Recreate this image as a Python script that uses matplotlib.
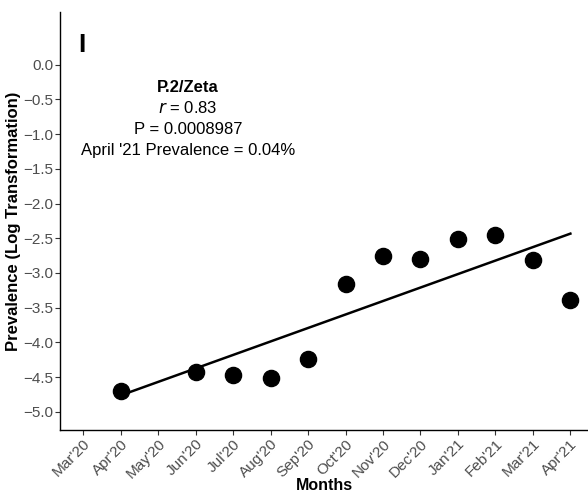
import numpy as np
import matplotlib
matplotlib.use("Agg")
import matplotlib.pyplot as plt

plt.rcParams['font.family'] = ['Liberation Sans', 'DejaVu Sans']

months = ["Mar'20", "Apr'20", "May'20", "Jun'20", "Jul'20", "Aug'20", "Sep'20",
          "Oct'20", "Nov'20", "Dec'20", "Jan'21", "Feb'21", "Mar'21", "Apr'21"]
obs_months = ["Apr'20", "Jun'20", "Jul'20", "Aug'20", "Sep'20", "Oct'20",
              "Nov'20", "Dec'20", "Jan'21", "Feb'21", "Mar'21", "Apr'21"]
prevalence = [-4.70, -4.42, -4.47, -4.51, -4.24, -3.16,
              -2.75, -2.80, -2.51, -2.45, -2.81, -3.39]
yticks = [0.0, -0.5, -1.0, -1.5, -2.0, -2.5, -3.0, -3.5, -4.0, -4.5, -5.0]

x = np.array([months.index(m) for m in obs_months], dtype=float)
y = np.array(prevalence)
slope, intercept = np.polyfit(x, y, 1)
xl = np.array([x.min(), x.max()])

fig = plt.figure(figsize=(5.88, 4.93), dpi=100)
ax = fig.add_axes([0.102, 0.128, 0.898, 0.848])
ax.plot(xl, slope * xl + intercept, color='black', lw=1.8, zorder=2)
ax.scatter(x, y, s=135, color='black', zorder=3, clip_on=False)

ax.set_xlim(-0.62, 13.47)
ax.set_ylim(-5.26, 0.76)
ax.set_xticks(range(len(months)))
ax.set_xticklabels(months, rotation=45, ha='right', rotation_mode='anchor')
ax.set_yticks(yticks)
ax.set_yticklabels([f"{v:.1f}".replace('-', '\u2212') for v in yticks])
for s in ['top', 'right']:
    ax.spines[s].set_visible(False)
for s in ['left', 'bottom']:
    ax.spines[s].set_linewidth(1.0)
ax.tick_params(axis='both', colors='#333333', labelcolor='#4d4d4d',
               labelsize=11, length=3.5, width=0.8, pad=1.5)
ax.set_xlabel('Months', fontsize=11.5, fontweight='bold', labelpad=-2.5)
ax.set_ylabel('Prevalence (Log Transformation)', fontsize=12, fontweight='bold', labelpad=1.5)

ax.text(0.035, 0.95, 'I', transform=ax.transAxes, fontsize=19, fontweight='bold',
        va='top', ha='left')
cx = 2.8
ax.text(cx, -0.33, 'P.2/Zeta', fontsize=12, fontweight='bold', ha='center', va='center')
ax.text(cx, -0.63, r'$\it{r}$ = 0.83', fontsize=12, ha='center', va='center')
ax.text(cx, -0.93, 'P = 0.0008987', fontsize=12, ha='center', va='center')
ax.text(cx, -1.23, "April '21 Prevalence = 0.04%", fontsize=12, ha='center', va='center')

fig.savefig('out.png', dpi=100)
